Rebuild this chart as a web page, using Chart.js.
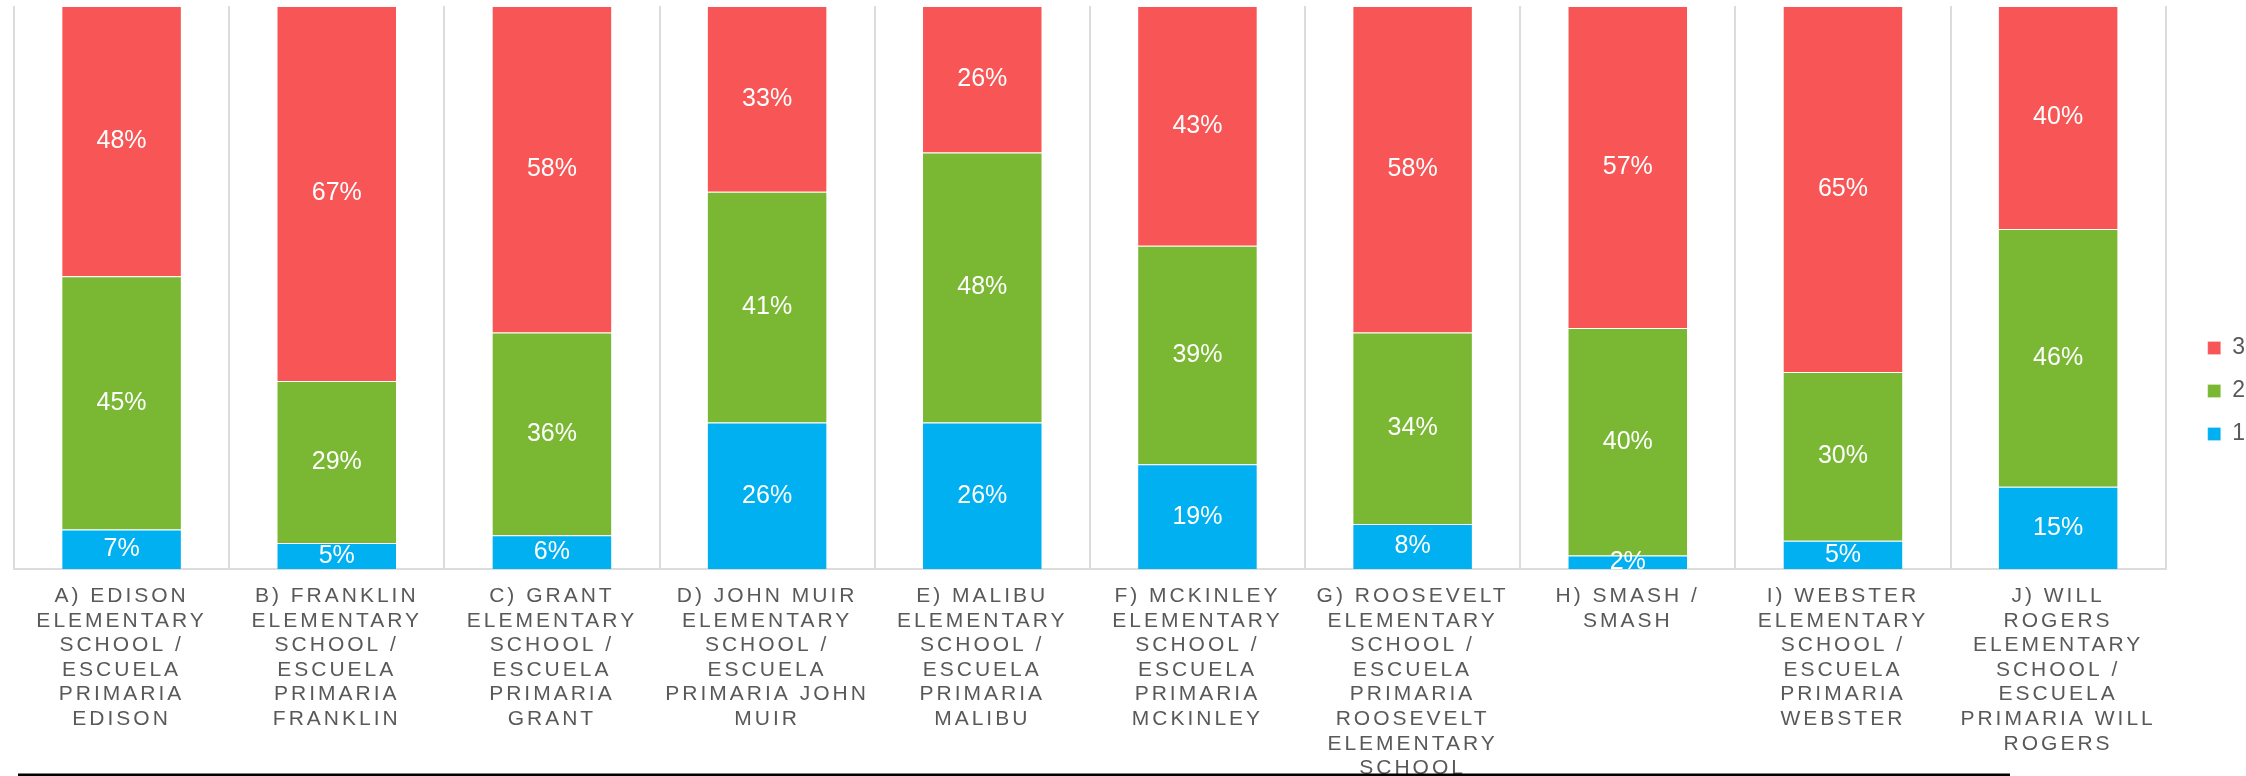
<!DOCTYPE HTML>
<html>
<head>
<title>Schools</title>
<script src="https://cdn.jsdelivr.net/npm/chart.js@4.4.1/dist/chart.umd.min.js"></script>
<style>
  html, body { margin: 0; padding: 0; background: #fff; }
  #wrap { width: 2246px; height: 776px; position: relative; }
</style>
</head>
<body>
<div id="wrap"><canvas id="Chart"></canvas></div>
<script>
// categories, one line per array entry (wrapped like the source)
var schools = [
  ["A) EDISON", "ELEMENTARY", "SCHOOL /", "ESCUELA", "PRIMARIA", "EDISON"],
  ["B) FRANKLIN", "ELEMENTARY", "SCHOOL /", "ESCUELA", "PRIMARIA", "FRANKLIN"],
  ["C) GRANT", "ELEMENTARY", "SCHOOL /", "ESCUELA", "PRIMARIA", "GRANT"],
  ["D) JOHN MUIR", "ELEMENTARY", "SCHOOL /", "ESCUELA", "PRIMARIA JOHN", "MUIR"],
  ["E) MALIBU", "ELEMENTARY", "SCHOOL /", "ESCUELA", "PRIMARIA", "MALIBU"],
  ["F) MCKINLEY", "ELEMENTARY", "SCHOOL /", "ESCUELA", "PRIMARIA", "MCKINLEY"],
  ["G) ROOSEVELT", "ELEMENTARY", "SCHOOL /", "ESCUELA", "PRIMARIA", "ROOSEVELT", "ELEMENTARY", "SCHOOL"],
  ["H) SMASH /", "SMASH"],
  ["I) WEBSTER", "ELEMENTARY", "SCHOOL /", "ESCUELA", "PRIMARIA", "WEBSTER"],
  ["J) WILL", "ROGERS", "ELEMENTARY", "SCHOOL /", "ESCUELA", "PRIMARIA WILL", "ROGERS"]
];

// shares in percent
var level1 = [7, 4.6, 6, 26, 26, 18.6, 8, 2.4, 5, 14.6];
var level2 = [45, 28.8, 36, 41, 48, 38.8, 34, 40.4, 30, 45.8];
var level3 = [48, 66.6, 58, 33, 26, 42.6, 58, 57.2, 65, 39.6];

var labelGray = "#595959";

// white % labels in the middle of each piece
var pctLabels = {
  id: "pctLabels",
  afterDatasetsDraw: function(chart) {
    var ctx = chart.ctx;
    ctx.save();
    ctx.letterSpacing = "0px";
    ctx.font = "25px 'Liberation Sans', Arial, sans-serif";
    ctx.fillStyle = "#ffffff";
    ctx.textAlign = "center";
    ctx.textBaseline = "middle";
    chart.data.datasets.forEach(function(ds, i) {
      chart.getDatasetMeta(i).data.forEach(function(bar, j) {
        var mid = (bar.y + bar.base) / 2;
        ctx.fillText(Math.round(ds.data[j]) + "%", bar.x, mid);
      });
    });
    ctx.restore();
  }
};

// spaced letters for the category names, plus the black rule at the bottom
var extras = {
  id: "extras",
  afterLayout: function(chart) {
    if (chart.legend) { chart.legend.left += 22; chart.legend.right += 22; }
  },
  beforeDraw: function(chart) {
    chart.ctx.letterSpacing = "3px";
  },
  beforeDatasetsDraw: function(chart) {
    chart.ctx.letterSpacing = "0px";
  },
  afterDraw: function(chart) {
    var ctx = chart.ctx;
    ctx.save();
    ctx.strokeStyle = "#000";
    ctx.lineWidth = 3;
    ctx.beginPath();
    ctx.moveTo(18, 775);
    ctx.lineTo(2010, 775);
    ctx.stroke();
    ctx.restore();
  }
};

new Chart("Chart", {
  type: "bar",
  data: {
    labels: schools,
    datasets: [{
      label: "1",
      data: level1,
      backgroundColor: "#00B0F0",
      borderColor: "rgba(255,255,255,0.25)",
      borderWidth: 1
    }, {
      label: "2",
      data: level2,
      backgroundColor: "#7AB833",
      borderColor: "rgba(255,255,255,0.25)",
      borderWidth: 1
    }, {
      label: "3",
      data: level3,
      backgroundColor: "#F85656",
      borderColor: "rgba(255,255,255,0.25)",
      borderWidth: 1
    }]
  },
  options: {
    responsive: true,
    maintainAspectRatio: false,
    animation: false,
    layout: { padding: { left: 14, top: 6, right: 13, bottom: 0 } },
    datasets: { bar: { categoryPercentage: 1, barPercentage: 0.56 } },
    scales: {
      x: {
        stacked: true,
        afterFit: function(scale) { scale.height = 207; },
        grid: { display: true, color: "#dcdcdc", lineWidth: 2, drawTicks: false, offset: true },
        border: { display: true, color: "#dcdcdc", width: 2 },
        ticks: {
          autoSkip: false,
          maxRotation: 0,
          padding: 15,
          color: labelGray,
          font: { family: "'Liberation Sans', Arial", size: 21, lineHeight: 1.17 }
        }
      },
      y: {
        stacked: true,
        display: false,
        min: 0,
        max: 100
      }
    },
    plugins: {
      legend: {
        position: "right",
        reverse: true,
        labels: {
          boxWidth: 13,
          boxHeight: 13,
          padding: 20,
          color: labelGray,
          font: { family: "'Liberation Sans', Arial", size: 23 }
        }
      },
      tooltip: { enabled: false }
    }
  },
  plugins: [pctLabels, extras]
});
</script>
</body>
</html>
